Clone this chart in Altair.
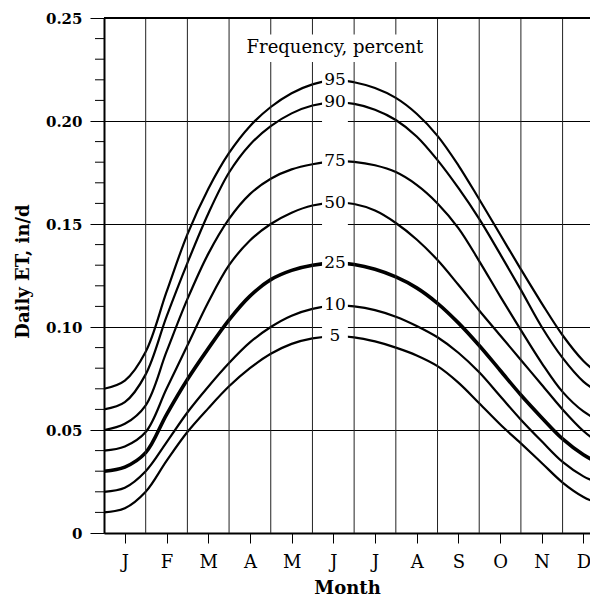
import altair as alt
import pandas as pd

# ---- data ----
month_pos = [0, 0.5, 1, 1.5, 2, 2.5, 3, 3.5, 4, 4.5, 5, 5.54, 6, 6.5, 7, 7.5,
             8, 8.5, 9, 9.5, 10, 10.5, 11, 11.5, 11.85]
et_95 = [0.070, 0.074, 0.088, 0.117, 0.145, 0.167, 0.1845, 0.1975, 0.2068, 0.2135, 0.2178, 0.2200,
         0.2188, 0.2160, 0.2112, 0.2035, 0.1928, 0.1785, 0.162, 0.145, 0.128, 0.1115, 0.096, 0.0835, 0.0775]
et_90 = [0.060, 0.0635, 0.077, 0.105, 0.131, 0.155, 0.175, 0.1885, 0.1975, 0.2037, 0.2075, 0.2090,
         0.2083, 0.2055, 0.2005, 0.1925, 0.181, 0.1675, 0.1525, 0.1355, 0.118, 0.100, 0.085, 0.0735, 0.0686]
et_75 = [0.050, 0.053, 0.062, 0.088, 0.1135, 0.1355, 0.1525, 0.1645, 0.172, 0.1765, 0.179, 0.1805,
         0.1802, 0.1785, 0.1752, 0.169, 0.160, 0.148, 0.132, 0.115, 0.0985, 0.0825, 0.0685, 0.059, 0.0549]
et_50 = [0.040, 0.042, 0.049, 0.070, 0.091, 0.112, 0.130, 0.142, 0.150, 0.1555, 0.159, 0.1603,
         0.1597, 0.1565, 0.1505, 0.1425, 0.1325, 0.1205, 0.108, 0.096, 0.084, 0.072, 0.060, 0.0495, 0.0440]
et_25 = [0.030, 0.032, 0.039, 0.0575, 0.0745, 0.0895, 0.1035, 0.115, 0.123, 0.1275, 0.130, 0.1310,
         0.1303, 0.128, 0.1243, 0.119, 0.1115, 0.102, 0.091, 0.079, 0.067, 0.056, 0.0457, 0.038, 0.034]
et_10 = [0.020, 0.022, 0.030, 0.044, 0.0585, 0.071, 0.0825, 0.0925, 0.1000, 0.1055, 0.1088, 0.1105,
         0.1100, 0.1082, 0.105, 0.1005, 0.095, 0.0875, 0.078, 0.0665, 0.055, 0.0445, 0.0345, 0.0275, 0.0245]
et_5 = [0.010, 0.012, 0.020, 0.035, 0.049, 0.0605, 0.0712, 0.0800, 0.0870, 0.0918, 0.0945, 0.0955,
        0.0950, 0.093, 0.090, 0.0862, 0.081, 0.073, 0.063, 0.0528, 0.0435, 0.034, 0.0245, 0.0175, 0.0144]

freq_labels = ["95", "90", "75", "50", "25", "10", "5"]
series = [et_95, et_90, et_75, et_50, et_25, et_10, et_5]
month_letters = ["J", "F", "M", "A", "M", "J", "J", "A", "S", "O", "N", "D"]
month_bounds = [1, 2, 3, 4, 5, 6, 7, 8, 9, 10, 11]
y_ticks = [0, 0.05, 0.10, 0.15, 0.20, 0.25]
y_minor = [0.01, 0.02, 0.03, 0.04, 0.06, 0.07, 0.08, 0.09, 0.11, 0.12, 0.13, 0.14,
           0.16, 0.17, 0.18, 0.19, 0.21, 0.22, 0.23, 0.24]
legend_title = "Frequency, percent"
y_max = 0.25
label_m = 5.54      # month position of the curve labels
label_idx = 11      # index of label_m in month_pos

PX_PER_MONTH = 41.69
W, H = 486, 515
x_max = W / PX_PER_MONTH
FONT = "DejaVu Serif"

# ---- tables ----
rows = []
for lab, vals in zip(freq_labels, series):
    for m, v in zip(month_pos, vals):
        rows.append({"m": m, "et": v, "freq": lab, "w": 3.6 if lab == "25" else 2.2})
curves = pd.DataFrame(rows)

labels_df = pd.DataFrame({"m": [label_m] * len(freq_labels),
                          "et": [s[label_idx] for s in series],
                          "freq": freq_labels})
bounds_df = pd.DataFrame({"m": month_bounds})
minor_df = pd.DataFrame({"et": y_minor})
frame_df = pd.DataFrame({"m": [0], "x1": [x_max], "et": [y_max]})
lowest = min(s[label_idx] for s in series)
mask_df = pd.DataFrame({
    "m": [label_m - 0.31, 3.26],
    "x1": [label_m + 0.31, 7.77],
    "et": [lowest - 0.0045, 0.2286],
    "y1": [0.2286, 0.2420],
})
title_df = pd.DataFrame({"m": [label_m], "et": [0.233], "t": [legend_title]})

xscale = alt.Scale(domain=[0, x_max], nice=False, zero=False)
yscale = alt.Scale(domain=[0, y_max], nice=False, zero=True)

label_js = "[" + ",".join("'%s'" % s for s in month_letters) + "]"

x_axis = alt.Axis(
    values=[i + 0.5 for i in range(12)],
    labelExpr=label_js + "[floor(datum.value)]",
    tickSize=10, tickColor="black", tickWidth=1,
    labelPadding=24, labelBaseline="alphabetic",
    labelFont=FONT, labelFontSize=18, labelColor="black",
    labelFlush=False, labelOverlap=False,
    domainColor="black", domainWidth=2, grid=False,
    title="Month", titleFont=FONT, titleFontSize=18, titleFontWeight="bold",
    titleColor="black", titleX=243, titleY=60, titleAlign="center",
    titleBaseline="alphabetic",
)
y_axis = alt.Axis(
    values=y_ticks,
    labelExpr="datum.value == 0 ? '0' : format(datum.value, '.2f')",
    tickSize=14, tickColor="black", tickWidth=1, labelPadding=8,
    labelFont=FONT, labelFontSize=15, labelFontWeight="bold", labelColor="black",
    labelFlush=False, labelOverlap=False,
    domainColor="black", domainWidth=2,
    grid=True, gridColor="black", gridWidth=1, gridOpacity=1,
    title="Daily ET, in/d", titleFont=FONT, titleFontSize=18, titleFontWeight="bold",
    titleColor="black", titleAngle=270, titleX=-81, titleY=253,
    titleAlign="center", titleBaseline="middle",
)

X = alt.X("m:Q", scale=xscale, axis=x_axis, title="Month")
Y = alt.Y("et:Q", scale=yscale, axis=y_axis, title="Daily ET, in/d")

grid_v = alt.Chart(bounds_df).mark_rule(color="#222", strokeWidth=1).encode(x=X)

lines = alt.Chart(curves).mark_line(interpolate="catmull-rom", color="black", clip=True).encode(
    x=X, y=Y,
    detail="freq:N",
    strokeWidth=alt.StrokeWidth("w:Q", scale=None),
)

masks = alt.Chart(mask_df).mark_rect(color="white").encode(
    x=X, x2="x1:Q", y=Y, y2="y1:Q")

labels = alt.Chart(labels_df).mark_text(font=FONT, fontSize=17, color="black",
                                        align="center", baseline="middle").encode(
    x=X, y=Y, text="freq:N")

title_txt = alt.Chart(title_df).mark_text(font=FONT, fontSize=18, color="black",
                                          align="center", baseline="alphabetic").encode(
    x=X, y=Y, text="t:N")

minor = alt.Chart(minor_df).mark_rule(color="black", strokeWidth=1).encode(
    y=Y, x=alt.value(-9), x2=alt.value(0))

top = alt.Chart(frame_df).mark_rule(color="black", strokeWidth=2).encode(
    x=X, x2="x1:Q", y=Y)

chart = alt.layer(lines, grid_v, masks, labels, title_txt, minor, top).properties(
    width=W, height=H,
    autosize=alt.AutoSizeParams(type="none"),
    padding={"left": 96, "top": 10, "right": 0, "bottom": 66},
).configure_view(stroke=None)

chart.save("out.html", embed_options={"renderer": "svg", "actions": False})
